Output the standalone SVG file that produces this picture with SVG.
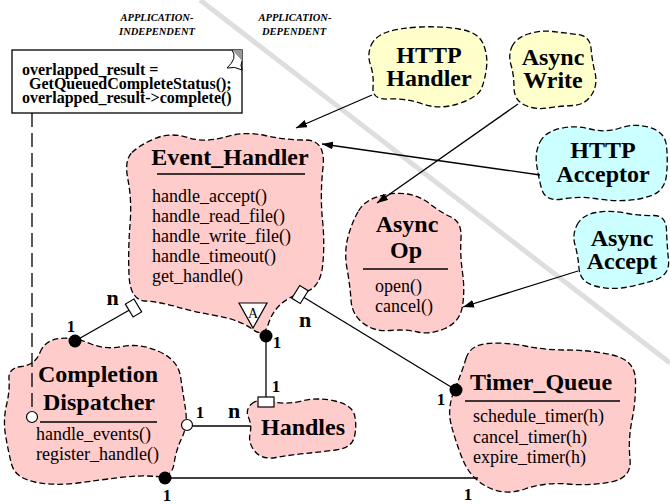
<svg xmlns="http://www.w3.org/2000/svg" width="670" height="504" viewBox="0 0 670 504">
  <defs>
    <style>
      .cloud { stroke: #000; stroke-width: 1.3; stroke-dasharray: 6 3; }
      .pink { fill: #ffcccc; }
      .yellow { fill: #ffffcc; }
      .cyan { fill: #ccffff; }
      .title { font-family: "Liberation Serif", "Times New Roman", serif; font-weight: bold; font-size: 24px; text-anchor: middle; fill: #000; }
      .op { font-family: "Liberation Serif", "Times New Roman", serif; font-size: 18px; fill: #000; }
      .mult { font-family: "Liberation Serif", "Times New Roman", serif; font-weight: bold; font-size: 17px; text-anchor: middle; fill: #000; }
      .many { font-family: "Liberation Serif", "Times New Roman", serif; font-weight: bold; font-size: 22px; text-anchor: middle; fill: #000; }
      .hdr { font-family: "Liberation Serif", "Times New Roman", serif; font-weight: bold; font-style: italic; font-size: 10.5px; text-anchor: middle; fill: #000; }
      .note { font-family: "Liberation Serif", "Times New Roman", serif; font-weight: bold; font-size: 16px; fill: #000; }
      .rule { stroke: #000; stroke-width: 1.5; }
      .line { stroke: #000; stroke-width: 1.3; fill: none; }
      .arrow { stroke: #000; stroke-width: 1.3; fill: none; marker-end: url(#head); }
      .dot { fill: #000; }
      .hollow { fill: #fff; stroke: #000; stroke-width: 1.2; }
    </style>
    <marker id="head" viewBox="0 0 10 7" refX="10" refY="3.5" markerUnits="userSpaceOnUse" markerWidth="11" markerHeight="8" orient="auto">
      <path d="M0,0 L10,3.5 L0,7 z" fill="#000"/>
    </marker>
  </defs>

  <rect width="670" height="504" fill="#fff"/>

  <!-- boundary between the framework and the application layers -->
  <line x1="200" y1="0" x2="670" y2="363" stroke="#dedede" stroke-width="5"/>
  <text class="hdr" x="157" y="21">APPLICATION-</text>
  <text class="hdr" x="157" y="35">INDEPENDENT</text>
  <text class="hdr" x="295" y="21">APPLICATION-</text>
  <text class="hdr" x="294" y="35">DEPENDENT</text>

  <!-- note attached to the dispatcher -->
  <g id="note">
    <rect x="12" y="50" width="230" height="63" fill="#fff" stroke="#000" stroke-width="1.3"/>
    <polygon points="232,50 242,50 242,61" fill="#999"/>
    <path d="M232,50 Q238,58 227,68 Q235,66 242,70 Q240,65 242,61" fill="#fff" stroke="#000" stroke-width="1"/>
    <text class="note" x="22" y="75">overlapped_result =</text>
    <text class="note" x="29" y="89">GetQueuedCompleteStatus();</text>
    <text class="note" x="22" y="103">overlapped_result-&gt;complete()</text>
  </g>

  <g id="event-handler">
    <path class="cloud pink" d="M132,152.5 Q140,145 155,138.5 Q170,132 187.5,137.5 Q205,143 225,137 Q245,131 265,135.5 Q285,140 305.5,140 Q326,140 323,167.5 Q320,195 322.5,220 Q325,245 322.5,266.5 Q320,288 305,292 Q290,296 281,304 Q272,312 268,325 Q264,338 252,329 Q240,320 217.5,316 Q195,312 177.5,307 Q160,302 145,301 Q130,300 129,275 Q128,250 130,225 Q132,200 128,180 Q124,160 132,152.5Z"/>
    <text class="title" x="230" y="165">Event_Handler</text>
    <line class="rule" x1="157" y1="174" x2="305" y2="174"/>
    <text class="op" x="152" y="202">handle_accept()</text>
    <text class="op" x="152" y="222">handle_read_file()</text>
    <text class="op" x="152" y="242">handle_write_file()</text>
    <text class="op" x="152" y="262">handle_timeout()</text>
    <text class="op" x="152" y="282">get_handle()</text>
    <polygon points="239,303 267,303 253,328" fill="#fff" stroke="#000" stroke-width="1.2"/>
    <text x="253" y="318" font-family="Liberation Serif, serif" font-size="14" text-anchor="middle">A</text>
  </g>

  <g id="completion-dispatcher">
    <path class="cloud pink" d="M40,352.5 Q45,340 60,338.5 Q75,337 90,343.5 Q105,350 122.5,346.5 Q140,343 159,351.5 Q178,360 180.5,376.5 Q183,393 185.5,409 Q188,425 182,437.5 Q176,450 174,464 Q172,478 156,476.5 Q140,475 120,477.5 Q100,480 77.5,483 Q55,486 35,482 Q15,478 11.5,464 Q8,450 5.5,435 Q3,420 6.5,405 Q10,390 9,379 Q8,368 21.5,366.5 Q35,365 40,352.5Z"/>
    <text class="title" x="98" y="382">Completion</text>
    <text class="title" x="99" y="410">Dispatcher</text>
    <line class="rule" x1="40" y1="422" x2="157" y2="422"/>
    <text class="op" x="36" y="440">handle_events()</text>
    <text class="op" x="36" y="460">register_handle()</text>
  </g>

  <g id="handles">
    <path class="cloud pink" d="M251.5,404 Q258,398 271.5,401.5 Q285,405 301.5,401 Q318,397 335,401 Q352,405 354.5,415 Q357,425 354.5,436.5 Q352,448 336,450 Q320,452 305,453.5 Q290,455 276,457.5 Q262,460 255,451.5 Q248,443 250,434 Q252,425 248.5,417.5 Q245,410 251.5,404Z"/>
    <text class="title" x="303" y="435">Handles</text>
  </g>

  <g id="timer-queue">
    <path class="cloud pink" d="M466,358.5 Q470,345 487.5,343.5 Q505,342 525,346 Q545,350 567.5,350 Q590,350 612.5,355 Q635,360 635.5,380 Q636,400 632,420 Q628,440 630,459 Q632,478 611,482 Q590,486 567.5,484 Q545,482 525,489 Q505,496 487.5,487 Q470,478 462.5,459 Q455,440 451,424 Q447,408 454.5,390 Q462,372 466,358.5Z"/>
    <text class="title" x="541" y="390">Timer_Queue</text>
    <line class="rule" x1="465" y1="401" x2="620" y2="401"/>
    <text class="op" x="473" y="422">schedule_timer(h)</text>
    <text class="op" x="473" y="442.5">cancel_timer(h)</text>
    <text class="op" x="473" y="463">expire_timer(h)</text>
  </g>

  <g id="async-op">
    <path class="cloud pink" d="M358.5,211 Q365,200 380,196 Q395,192 407.5,194 Q420,196 430,204 Q440,212 451,217 Q462,222 461,238.5 Q460,255 462.5,272.5 Q465,290 462.5,306 Q460,322 445,328.5 Q430,335 417.5,332 Q405,329 390,330.5 Q375,332 363.5,323.5 Q352,315 351,300 Q350,285 347,268.5 Q344,252 348,237 Q352,222 358.5,211Z"/>
    <text class="title" x="407" y="232">Async</text>
    <text class="title" x="406" y="258">Op</text>
    <line class="rule" x1="363" y1="269" x2="448" y2="269"/>
    <text class="op" x="375" y="292">open()</text>
    <text class="op" x="375" y="312">cancel()</text>
  </g>

  <g id="http-handler">
    <path class="cloud yellow" d="M371,45.5 Q375,36 387.5,32 Q400,28 420,27 Q440,26 459,29 Q478,32 483,43.5 Q488,55 486.5,67.5 Q485,80 481.5,88.5 Q478,97 459,103.5 Q440,110 422.5,104 Q405,98 388.5,99 Q372,100 373,87.5 Q374,75 370.5,65 Q367,55 371,45.5Z"/>
    <text class="title" x="429" y="63">HTTP</text>
    <text class="title" x="429" y="86">Handler</text>
  </g>

  <g id="async-write">
    <path class="cloud yellow" d="M512,46.5 Q516,38 528,34 Q540,30 552.5,31.5 Q565,33 577.5,34.5 Q590,36 591,48 Q592,60 595,72.5 Q598,85 591.5,95 Q585,105 572.5,105.5 Q560,106 547.5,108 Q535,110 524.5,105 Q514,100 514,87.5 Q514,75 511,65 Q508,55 512,46.5Z"/>
    <text class="title" x="553" y="65">Async</text>
    <text class="title" x="553" y="88">Write</text>
  </g>

  <g id="http-acceptor">
    <path class="cloud cyan" d="M540,142 Q545,132 560,128.5 Q575,125 590,129 Q605,133 620,128 Q635,123 650,127.5 Q665,132 666.5,146 Q668,160 666.5,175 Q665,190 652.5,195 Q640,200 625,200.5 Q610,201 595,198.5 Q580,196 562.5,199 Q545,202 541.5,188.5 Q538,175 536.5,163.5 Q535,152 540,142Z"/>
    <text class="title" x="603" y="158">HTTP</text>
    <text class="title" x="603" y="182">Acceptor</text>
  </g>

  <g id="async-accept">
    <path class="cloud cyan" d="M577,225 Q582,215 596,212.5 Q610,210 625,213 Q640,216 653,215.5 Q666,215 666.5,230 Q667,245 668.5,260 Q670,275 655,280 Q640,285 625,287.5 Q610,290 595,286 Q580,282 579,268.5 Q578,255 575,245 Q572,235 577,225Z"/>
    <text class="title" x="622" y="246">Async</text>
    <text class="title" x="622" y="269">Accept</text>
  </g>

  <g id="connectors">
    <!-- note to dispatcher -->
    <line class="line" x1="32" y1="113" x2="32" y2="411" stroke-dasharray="14 6"/>
    <circle class="hollow" cx="32" cy="417" r="5.5"/>

    <!-- inheritance arrows -->
    <line class="arrow" x1="372" y1="95" x2="296" y2="128"/>
    <line class="arrow" x1="540" y1="175" x2="322" y2="144"/>
    <line class="arrow" x1="518" y1="104" x2="377" y2="203"/>
    <line class="arrow" x1="578" y1="271" x2="463" y2="307"/>

    <!-- dispatcher to event handlers -->
    <line class="line" x1="75" y1="341" x2="133" y2="308"/>
    <circle class="dot" cx="75" cy="341" r="6.5"/>
    <rect class="hollow" x="128.5" y="300.5" width="10" height="15" transform="rotate(-31 133.5 308)"/>

    <!-- event handler to timer queue -->
    <line class="line" x1="300" y1="295" x2="456" y2="390"/>
    <rect class="hollow" x="295" y="287" width="10" height="15" transform="rotate(32 300 294.5)"/>
    <circle class="dot" cx="456" cy="390" r="6.5"/>

    <!-- event handler to handles -->
    <line class="line" x1="266" y1="336" x2="266" y2="397"/>
    <circle class="dot" cx="266" cy="336" r="6.5"/>
    <rect class="hollow" x="258" y="397" width="16" height="10"/>

    <!-- dispatcher to handles -->
    <line class="line" x1="192" y1="426" x2="250" y2="426"/>
    <circle class="hollow" cx="187" cy="425" r="5.5"/>

    <!-- dispatcher to timer queue -->
    <line class="line" x1="165" y1="478" x2="478" y2="478"/>
    <circle class="dot" cx="165" cy="478" r="6.5"/>

    <!-- multiplicities -->
    <text class="many" x="112.5" y="305">n</text>
    <text class="mult" x="71" y="332">1</text>
    <text class="many" x="305" y="327">n</text>
    <text class="mult" x="277" y="348">1</text>
    <text class="mult" x="276" y="392">1</text>
    <text class="mult" x="200" y="418">1</text>
    <text class="many" x="234" y="418">n</text>
    <text class="mult" x="167" y="501">1</text>
    <text class="mult" x="468" y="500">1</text>
    <text class="mult" x="441" y="405">1</text>
  </g>
</svg>
